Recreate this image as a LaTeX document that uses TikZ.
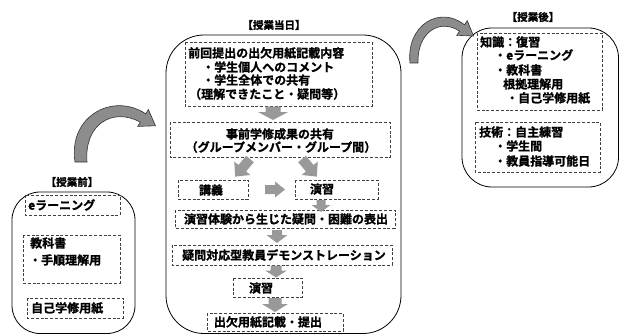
\documentclass[tikz,border=0pt]{standalone}
\usepackage{fontspec}
\newfontfamily\jp{Noto Sans CJK JP}[BoldFont={* Bold},BoldFeatures={FakeBold=1.2}]
\newcommand\GArrow[7]{%
  \fill[garrow,shift={(#1,#2)},rotate=#3] (0,-#5) -- (#4-#7,-#5) -- (#4-#7,-#6) -- (#4,0) -- (#4-#7,#6) -- (#4-#7,#5) -- (0,#5) -- cycle;}
\begin{document}
\begin{tikzpicture}[x=1pt,y=-1pt,
  rbox/.style={draw=black, line width=0.8pt, rounded corners=#1},
  dbox/.style={draw=black!75, line width=0.7pt, dash pattern=on 3pt off 1.8pt},
  txt/.style={inner sep=0pt, anchor=west, font=\jp\bfseries\fontsize{12}{14}\selectfont},
  ctxt/.style={inner sep=0pt, font=\jp\bfseries\fontsize{12}{14}\selectfont},
  lbl/.style={inner sep=0pt, font=\jp\bfseries\fontsize{10.5}{12}\selectfont},
  garrow/.style={fill=black!40},
  carrow/.style={fill=black!45, draw=black!80, line width=0.6pt}]
\useasboundingbox (0,0) rectangle (620,334);

% ---------- left: before class ----------
\node[lbl] (lblA) at (72,182) {【授業前】};
\draw[rbox=28] (12,192) rectangle (135,333.5);
\draw[dbox] (25,195) rectangle (120,215);
\node[txt] (a1) at (28,205) {eラーニング};
\draw[dbox] (23,235) rectangle (120,283);
\node[txt] (a2) at (30,243) {教科書};
\node[txt] (a3) at (29,260) {・手順理解用};
\draw[dbox] (27,298) rectangle (123,318);
\node[txt] (a4) at (31,308) {自己学修用紙};

% ---------- middle: class day ----------
\node[lbl] (lblB) at (274,25) {【授業当日】};
\draw[rbox=38] (166,35) rectangle (401,333.5);
\draw[dbox] (185,42) rectangle (372,106);
\node[txt] (b1) at (188,53) {前回提出の出欠用紙記載内容};
\node[txt] (b2) at (202,67) {・学生個人へのコメント};
\node[txt] (b3) at (202,80) {・学生全体での共有};
\node[txt] (b4) at (189,94) {（理解できたこと・疑問等）};

\draw[dbox] (170,122) rectangle (390,157);
\node[ctxt] (b5) at (280,134) {事前学修成果の共有};
\node[ctxt] (b6) at (281,147) {（グループメンバー・グループ間）};

\draw[dbox] (178,180) rectangle (248,199);
\node[ctxt] (b7) at (211,190) {講義};
\draw[dbox] (295,180) rectangle (378,199);
\node[ctxt] (b8) at (322,189) {演習};

\draw[dbox] (175,210) rectangle (395,228);
\node[ctxt] (b9) at (286,219) {演習体験から生じた疑問・困難の表出};
\draw[dbox] (172,245) rectangle (392,265);
\node[ctxt] (b10) at (284,255) {疑問対応型教員デモンストレーション};
\draw[dbox] (233,278) rectangle (302,297);
\node[ctxt] (b11) at (261,288) {演習};
\draw[dbox] (207,313) rectangle (343,331);
\node[ctxt] (b12) at (268,322) {出欠用紙記載・提出};

% block arrows: x, y (tail), angle, length, shaft hw, head hw, head length
\GArrow{273}{106.5}{-90}{13.5}{7.5}{15}{8}
\GArrow{250}{159}{-130}{23}{5}{10.5}{11}
\GArrow{302}{159}{-50}{23}{5}{10.5}{11}
\GArrow{265}{189.5}{0}{20}{4.5}{8}{10}
\GArrow{321}{200}{-90}{12}{4.5}{9.5}{7}
\GArrow{277}{230}{-90}{13}{5}{10.5}{8}
\GArrow{276}{265.5}{-90}{12}{5.5}{11}{7}
\GArrow{275}{298}{-90}{14}{6.5}{13}{8}

% ---------- right: after class ----------
\node[lbl] (lblC) at (533,17) {【授業後】};
\draw[rbox=30] (462,28) rectangle (618.5,187);
\draw[dbox] (477,33) rectangle (602,110);
\node[txt] (c1) at (480,42) {知識：復習};
\node[txt] (c2) at (494,55) {・eラーニング};
\node[txt] (c3) at (494,70) {・教科書};
\node[txt] (c4) at (503,84) {根拠理解用};
\node[txt] (c5) at (506,98) {・自己学修用紙};
\draw[dbox] (475,122) rectangle (600,172);
\node[txt] (c6) at (479,132) {技術：自主練習};
\node[txt] (c7) at (494,146) {・学生間};
\node[txt] (c8) at (494,161) {・教員指導可能日};

% ---------- curved arrows ----------
\filldraw[carrow] (75,162) .. controls (68,116) and (113,92) .. (145.7,113.8)
  -- (148.4,109.6) -- (155.5,125.8) -- (137.6,126.4) -- (140.3,122.2)
  .. controls (113,107) and (84,124) .. (87,162) -- cycle;
\filldraw[carrow] (410,63) .. controls (406,25) and (440,5) .. (464.4,24.8)
  -- (467.3,20.7) -- (473.5,36) -- (456.7,35.3) -- (459.6,31.2)
  .. controls (440,18) and (417,32) .. (418,63) -- cycle;
\end{tikzpicture}
\end{document}
